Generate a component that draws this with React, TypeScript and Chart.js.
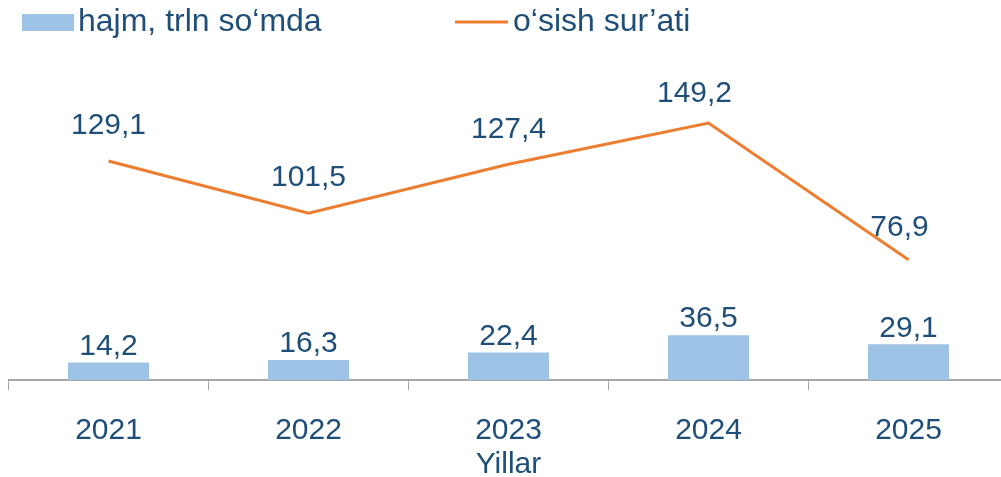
import React, { useEffect, useRef } from "react";
import { Chart, registerables } from "chart.js";

Chart.register(...registerables);

const categories = ["2021", "2022", "2023", "2024", "2025"];
const volumeValues = [14.2, 16.3, 22.4, 36.5, 29.1];
const growthValues = [129.1, 101.5, 127.4, 149.2, 76.9];
const volumeLabel = "hajm, trln so‘mda";
const growthLabel = "o‘sish sur’ati";
const axisTitle = "Yillar";

const TEXT = "#1F4E79";
const BAR = "#9DC3E6";
const LINE = "#ED7D31";
const FONT = "'Liberation Sans', Arial, sans-serif";

// manual label nudges (as in the original, label positions were adjusted per point)
const lineLabelShift: [number, number][] = [[0, -35], [0, -35], [0, -34], [-14, -29], [-9, -32]];

const fmt = (v: number) => v.toFixed(1).replace(".", ",");

const labelsPlugin = {
  id: "valueLabels",
  afterDatasetsDraw(chart: any) {
    const ctx = chart.ctx;
    ctx.save();
    ctx.font = `30px ${FONT}`;
    ctx.fillStyle = TEXT;
    ctx.textAlign = "center";
    ctx.textBaseline = "middle";
    chart.data.datasets.forEach((ds: any, di: number) => {
      const meta = chart.getDatasetMeta(di);
      meta.data.forEach((el: any, i: number) => {
        const [dx, dy] = ds.type === "line" ? lineLabelShift[i] : [0, -16];
        ctx.fillText(fmt(ds.data[i]), el.x + dx, el.y + dy);
      });
    });
    ctx.restore();
  },
};

const legendPlugin = {
  id: "customLegend",
  afterDraw(chart: any) {
    const ctx = chart.ctx;
    ctx.save();
    ctx.fillStyle = BAR;
    ctx.fillRect(22, 14, 52, 17);
    ctx.font = `32px ${FONT}`;
    ctx.fillStyle = TEXT;
    ctx.textBaseline = "middle";
    ctx.textAlign = "left";
    ctx.fillText(volumeLabel, 78, 22);
    ctx.strokeStyle = LINE;
    ctx.lineWidth = 3;
    ctx.beginPath();
    ctx.moveTo(455, 22);
    ctx.lineTo(508, 22);
    ctx.stroke();
    ctx.fillText(growthLabel, 513, 22);
    ctx.restore();
  },
};

export default function App() {
  const ref = useRef<HTMLCanvasElement | null>(null);
  useEffect(() => {
    document.body.style.margin = "0";
    document.body.style.overflow = "hidden";
    const chart = new Chart(ref.current as HTMLCanvasElement, {
      type: "bar",
      data: {
        labels: categories,
        datasets: [
          {
            type: "line",
            label: growthLabel,
            data: growthValues,
            borderColor: LINE,
            backgroundColor: LINE,
            borderWidth: 3,
            pointRadius: 0,
            tension: 0,
            yAxisID: "y2",
            order: 0,
          } as any,
          {
            type: "bar",
            label: volumeLabel,
            data: volumeValues,
            backgroundColor: BAR,
            borderWidth: 0,
            barPercentage: 0.405,
            categoryPercentage: 1,
            yAxisID: "y",
            order: 1,
          },
        ],
      },
      options: {
        responsive: false,
        animation: false,
        layout: { padding: { top: 50, left: 8.5, right: 1.5, bottom: 0 } },
        plugins: { legend: { display: false }, tooltip: { enabled: false } },
        scales: {
          x: {
            offset: true,
            grid: {
              display: true,
              drawOnChartArea: false,
              drawTicks: true,
              tickLength: 10,
              color: "#A6A6A6",
              offset: true,
            },
            border: { display: true, color: "#A6A6A6", width: 2 },
            ticks: {
              color: TEXT,
              font: { family: FONT, size: 30, lineHeight: 1 },
              padding: 26,
            },
            title: {
              display: true,
              text: axisTitle,
              color: TEXT,
              font: { family: FONT, size: 30, lineHeight: 1 },
              padding: { top: -22, bottom: -3 },
            },
          },
          y: { display: false, min: 0, max: 269 },
          y2: { display: false, min: 13.3, max: 187.8 },
        },
      },
      plugins: [labelsPlugin, legendPlugin],
    });
    return () => chart.destroy();
  }, []);
  return (
    <div style={{ width: 1001, height: 477, overflow: "hidden", background: "#fff" }}>
      <canvas ref={ref} width={1010} height={477} style={{ display: "block" }} />
    </div>
  );
}
